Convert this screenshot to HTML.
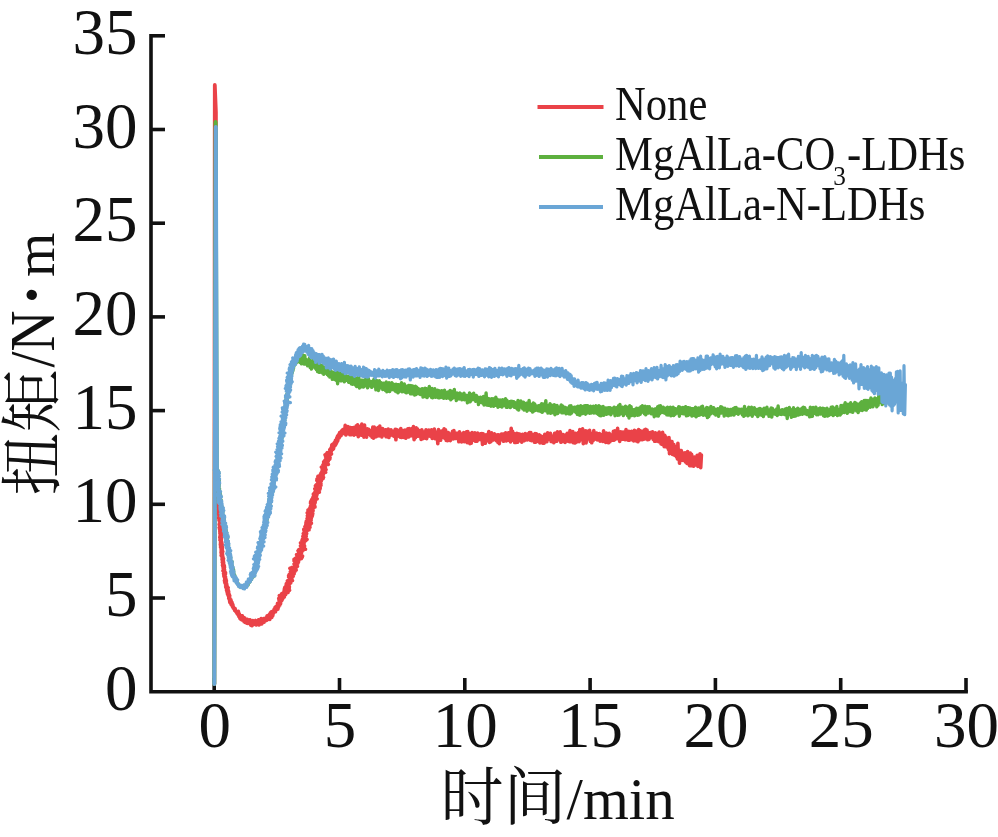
<!DOCTYPE html>
<html><head><meta charset="utf-8"><style>
html,body{margin:0;padding:0;background:#fff;}
svg{display:block;}
.num{font-family:"Liberation Serif","Noto Serif CJK SC",serif;font-size:65px;fill:#111;}
.lab{font-family:"Liberation Serif","Noto Serif CJK SC",serif;font-size:59px;fill:#111;}
.cjk{font-family:"Noto Serif CJK SC","Liberation Serif",serif;font-size:63px;fill:#111;}
.leg{font-family:"Liberation Serif","Noto Serif CJK SC",serif;font-size:43px;fill:#111;}
</style></head><body>
<svg width="998" height="837" viewBox="0 0 998 837">
<rect width="998" height="837" fill="#fff"/>
<g stroke="#111" stroke-width="3.6" fill="none">
<polyline points="151,35.8 151,691.7 966.1,691.7" stroke-linejoin="miter" stroke-linecap="square"/>
<line x1="151" y1="598.0" x2="165" y2="598.0"/><line x1="151" y1="504.3" x2="165" y2="504.3"/><line x1="151" y1="410.6" x2="165" y2="410.6"/><line x1="151" y1="316.9" x2="165" y2="316.9"/><line x1="151" y1="223.2" x2="165" y2="223.2"/><line x1="151" y1="129.5" x2="165" y2="129.5"/><line x1="151" y1="35.8" x2="165" y2="35.8"/><line x1="214.2" y1="678" x2="214.2" y2="691.7"/><line x1="339.5" y1="678" x2="339.5" y2="691.7"/><line x1="464.8" y1="678" x2="464.8" y2="691.7"/><line x1="590.1" y1="678" x2="590.1" y2="691.7"/><line x1="715.4" y1="678" x2="715.4" y2="691.7"/><line x1="840.7" y1="678" x2="840.7" y2="691.7"/><line x1="966.0" y1="678" x2="966.0" y2="691.7"/>
</g>
<g fill="none" stroke-linejoin="round" stroke-linecap="round">
<path d="M214.3 684 L214.8 85 L215.9 112 L216.2 482" stroke="#EA4248" stroke-width="3.8"/>
<path d="M216.6 480.0 L217.7 480.6 L216.2 481.5 L217.2 482.1 L216.6 482.8 L218.3 483.4 L216.9 484.2 L217.7 484.8 L216.5 485.6 L218.2 486.2 L217.0 487.0 L218.1 487.6 L216.9 488.4 L218.3 489.0 L217.5 489.8 L218.6 490.4 L217.0 491.2 L218.7 491.8 L216.9 492.6 L218.6 493.2 L216.9 494.0 L218.5 494.6 L217.3 495.4 L218.6 496.0 L217.5 496.8 L218.8 497.4 L217.8 498.2 L218.8 498.8 L217.4 499.6 L218.6 500.2 L217.5 501.0 L218.7 501.6 L217.8 502.4 L219.3 503.0 L217.1 503.8 L219.0 504.4 L217.4 505.2 L219.2 505.8 L217.7 506.6 L219.3 507.2 L218.6 507.9 L219.3 508.6 L218.3 509.4 L219.7 510.0 L218.2 510.8 L219.8 511.4 L218.5 512.2 L219.3 512.8 L218.1 513.6 L220.3 514.2 L218.7 515.0 L220.0 515.6 L219.0 516.3 L219.9 517.0 L218.5 517.8 L220.2 518.4 L219.0 519.1 L220.1 519.8 L219.1 520.5 L220.0 521.2 L219.9 521.9 L220.8 522.5 L219.4 523.3 L220.3 524.0 L219.2 524.7 L220.5 525.4 L219.8 526.1 L220.8 526.7 L219.2 527.5 L220.7 528.2 L219.5 528.9 L220.8 529.6 L219.9 530.3 L220.8 531.0 L219.9 531.7 L221.2 532.3 L219.9 533.1 L221.6 533.7 L220.2 534.5 L221.2 535.1 L220.1 535.9 L221.7 536.5 L219.8 537.3 L221.6 537.9 L220.1 538.7 L221.4 539.3 L220.0 540.1 L221.2 540.7 L220.7 541.5 L221.6 542.1 L220.5 542.9 L221.9 543.5 L220.4 544.3 L222.2 544.9 L220.6 545.7 L222.2 546.3 L220.6 547.1 L222.5 547.7 L221.1 548.5 L222.3 549.1 L221.2 549.9 L222.3 550.5 L221.2 551.3 L222.8 551.8 L221.1 552.7 L222.4 553.3 L221.4 554.1 L222.5 554.7 L221.2 555.5 L222.7 556.1 L221.9 556.8 L223.0 557.4 L222.2 558.2 L223.5 558.8 L222.1 559.6 L223.3 560.2 L222.5 561.0 L223.4 561.6 L222.3 562.4 L223.6 563.0 L222.9 563.8 L223.7 564.4 L222.5 565.2 L224.3 565.7 L222.9 566.6 L224.5 567.1 L223.2 568.0 L224.2 568.6 L223.4 569.4 L224.5 569.9 L223.0 570.8 L224.6 571.3 L223.9 572.1 L225.5 572.6 L223.6 573.6 L225.5 574.0 L223.8 575.0 L224.9 575.5 L224.0 576.4 L225.5 576.9 L224.7 577.7 L225.6 578.3 L224.8 579.1 L226.0 579.6 L224.5 580.5 L226.4 581.0 L224.7 581.9 L226.1 582.4 L225.1 583.3 L226.6 583.8 L226.0 584.6 L226.9 585.1 L225.7 586.0 L227.1 586.5 L225.9 587.4 L228.2 587.7 L226.5 588.7 L227.8 589.2 L226.6 590.2 L228.4 590.5 L227.0 591.5 L228.7 591.8 L227.3 592.9 L228.8 593.2 L227.6 594.3 L229.2 594.5 L228.3 595.6 L229.8 595.8 L228.8 596.9 L229.5 597.4 L228.8 598.3 L229.9 598.7 L229.4 599.6 L230.9 599.8 L229.7 601.0 L231.3 601.2 L229.9 602.5 L232.0 602.4 L230.9 603.6 L232.4 603.7 L231.4 604.9 L233.0 604.9 L232.5 606.5 L232.9 606.1 L233.2 608.0 L233.5 607.0 L233.9 609.0 L234.3 608.2 L234.7 610.4 L235.1 608.6 L235.5 611.2 L235.9 610.9 L236.3 612.3 L236.7 611.4 L237.1 613.6 L237.5 612.8 L238.0 614.8 L238.4 611.4 L238.9 616.5 L239.3 613.8 L239.8 618.2 L240.3 615.4 L240.8 619.3 L241.3 615.8 L241.8 619.9 L242.4 615.8 L243.0 619.5 L243.5 617.5 L244.1 621.8 L244.8 617.9 L245.4 622.5 L246.0 620.1 L246.7 623.2 L247.3 619.2 L248.0 623.4 L248.6 621.2 L249.3 623.0 L250.0 619.8 L250.7 625.1 L251.4 621.6 L252.1 625.8 L252.8 620.5 L253.5 623.9 L254.2 621.5 L254.9 624.4 L255.6 620.4 L256.3 625.0 L257.0 621.3 L257.7 624.5 L258.4 619.9 L259.1 624.9 L259.7 620.2 L260.4 623.2 L261.1 618.5 L261.8 623.9 L262.4 620.2 L263.1 621.9 L263.7 618.6 L264.2 622.2 L264.8 619.1 L265.4 620.8 L265.9 617.8 L266.5 620.5 L267.1 615.8 L267.6 619.6 L268.2 616.0 L268.7 618.0 L269.2 614.6 L269.8 619.4 L270.3 612.8 L270.8 616.7 L271.3 611.8 L271.8 617.4 L272.3 611.6 L272.8 615.6 L273.2 610.7 L273.7 613.1 L274.2 609.0 L274.6 611.8 L275.1 607.3 L275.5 611.8 L275.9 606.6 L276.4 610.1 L276.8 606.7 L277.1 609.5 L277.5 603.3 L277.9 609.1 L278.2 604.0 L278.6 607.2 L278.9 602.3 L279.3 605.2 L279.6 601.8 L279.9 605.0 L280.3 600.5 L280.6 603.5 L279.0 599.9 L281.8 600.6 L278.8 598.3 L282.5 599.3 L280.0 597.4 L283.1 598.1 L279.4 595.6 L284.3 597.0 L281.3 594.9 L283.9 595.3 L281.8 593.6 L285.7 594.6 L283.3 592.8 L286.1 593.2 L284.1 591.6 L288.0 592.5 L284.2 590.1 L288.4 591.2 L284.5 588.7 L289.6 590.2 L284.8 587.4 L289.2 588.4 L285.9 586.3 L289.4 586.9 L286.2 584.9 L288.5 585.1 L286.4 583.5 L289.7 584.0 L288.0 582.7 L290.8 582.9 L287.4 580.9 L290.8 581.4 L288.8 580.0 L292.5 580.5 L289.7 578.8 L291.9 578.9 L288.7 577.0 L291.8 577.3 L288.7 575.5 L293.2 576.3 L289.4 574.2 L292.2 574.5 L290.9 573.3 L294.2 573.7 L290.4 571.6 L293.1 571.9 L291.4 570.5 L295.1 571.1 L289.9 568.4 L296.2 570.0 L291.6 567.5 L295.4 568.3 L294.1 567.0 L296.5 567.2 L294.6 565.7 L297.5 566.2 L294.1 563.9 L296.9 564.4 L295.3 562.9 L297.9 563.3 L294.1 560.8 L298.5 562.0 L294.1 559.3 L298.8 560.6 L295.3 558.3 L299.5 559.4 L297.5 557.8 L301.4 558.6 L297.0 556.1 L302.2 557.4 L296.6 554.5 L302.6 556.0 L298.9 553.9 L301.0 553.9 L298.9 552.4 L301.7 552.6 L298.0 550.7 L300.8 550.8 L298.9 549.5 L303.3 550.1 L300.5 548.6 L305.5 549.2 L301.2 547.3 L303.6 547.2 L300.5 545.7 L304.6 546.0 L301.3 544.5 L304.0 544.4 L300.5 542.9 L304.2 543.0 L302.0 541.8 L304.2 541.6 L302.0 540.4 L305.9 540.6 L302.5 539.0 L307.1 539.4 L303.3 537.8 L305.5 537.6 L302.9 536.3 L306.3 536.3 L303.6 535.0 L306.2 534.9 L303.3 533.5 L306.7 533.6 L304.5 532.3 L306.2 532.0 L304.0 530.7 L307.3 530.8 L303.8 529.2 L309.1 529.8 L305.5 528.2 L309.1 528.4 L304.9 526.6 L310.0 527.2 L305.7 525.4 L308.6 525.4 L305.9 524.0 L310.4 524.4 L306.0 522.6 L311.4 523.2 L306.3 521.2 L310.1 521.4 L308.1 520.2 L311.2 520.3 L307.1 518.5 L311.2 518.8 L307.8 517.3 L311.6 517.5 L307.4 515.7 L312.2 516.2 L307.9 514.4 L312.6 514.9 L307.2 512.8 L312.8 513.5 L308.9 511.8 L312.3 511.9 L308.0 510.0 L313.1 510.7 L309.2 508.9 L311.3 508.8 L310.3 507.7 L313.6 507.9 L310.4 506.3 L315.0 506.9 L311.4 505.1 L314.7 505.4 L310.6 503.4 L313.8 503.6 L310.6 502.0 L315.2 502.6 L311.1 500.7 L315.3 501.2 L311.9 499.4 L315.9 499.9 L312.7 498.2 L317.2 498.8 L313.1 496.9 L316.0 497.0 L313.6 495.6 L316.7 495.7 L313.4 494.1 L317.1 494.4 L314.4 492.9 L317.2 493.0 L315.2 491.7 L319.4 492.1 L315.4 490.3 L319.1 490.6 L314.8 488.7 L319.9 489.3 L316.4 487.6 L320.3 488.0 L315.4 485.9 L320.0 486.5 L316.2 484.7 L321.0 485.3 L317.5 483.6 L321.0 483.8 L317.9 482.2 L319.5 482.0 L316.9 480.5 L321.3 481.0 L317.0 479.1 L321.4 479.6 L318.0 477.9 L323.1 478.6 L317.9 476.4 L323.6 477.3 L320.0 475.5 L322.4 475.6 L320.5 474.2 L323.5 474.4 L321.1 472.9 L323.8 473.1 L321.9 471.7 L325.7 472.3 L322.2 470.4 L325.2 470.6 L322.3 468.9 L326.1 469.5 L321.4 467.1 L325.4 467.8 L324.3 466.6 L325.3 466.3 L323.0 464.7 L325.8 464.9 L323.7 463.4 L328.4 464.4 L323.7 461.9 L327.1 462.5 L324.5 460.7 L328.2 461.4 L325.5 459.6 L328.1 459.9 L326.1 458.3 L329.8 459.1 L325.6 456.6 L330.1 457.8 L325.1 454.8 L329.3 455.9 L326.4 453.8 L330.5 454.9 L327.3 452.6 L331.5 453.9 L329.8 449.6 L330.2 452.7 L330.5 448.7 L330.8 452.7 L331.1 447.9 L331.5 451.0 L331.8 444.9 L332.2 449.4 L332.5 444.3 L332.9 449.4 L333.2 444.8 L333.6 448.7 L333.9 443.0 L334.3 445.6 L334.6 442.2 L335.0 445.6 L335.4 440.4 L335.7 444.6 L336.0 440.7 L336.4 443.3 L336.7 438.0 L337.1 441.9 L337.4 436.4 L337.8 440.7 L338.1 435.4 L338.5 438.1 L338.9 434.2 L339.2 437.8 L339.6 432.6 L340.1 436.3 L340.5 432.0 L341.0 435.7 L341.6 430.7 L342.2 434.1 L342.8 429.5 L343.4 432.6 L344.0 430.6 L344.6 433.7 L345.2 425.4 L345.8 435.0 L346.5 427.8 L347.1 432.6 L347.8 426.6 L348.5 433.8 L349.2 427.4 L349.9 434.8 L350.6 427.5 L351.3 434.6 L352.0 427.7 L352.7 431.6 L353.4 427.5 L354.1 435.1 L354.8 429.2 L355.5 432.4 L356.2 425.8 L356.9 434.5 L357.6 424.7 L358.3 436.6 L359.0 426.4 L359.7 434.2 L360.4 427.2 L361.1 435.2 L361.8 424.1 L362.5 435.5 L363.2 425.4 L363.9 437.2 L364.5 425.0 L365.2 434.7 L365.9 428.8 L366.6 437.1 L367.3 428.9 L368.0 434.5 L368.7 429.4 L369.3 433.6 L370.0 430.6 L370.7 435.7 L371.4 432.3 L372.1 437.2 L372.8 427.0 L373.5 438.2 L374.2 427.0 L374.9 437.0 L375.6 428.0 L376.3 436.6 L377.0 430.7 L377.7 434.7 L378.4 427.3 L379.1 435.9 L379.8 426.1 L380.5 435.4 L381.2 431.5 L381.9 436.9 L382.6 428.5 L383.3 434.6 L384.0 430.2 L384.7 435.1 L385.4 429.7 L386.1 436.8 L386.8 429.9 L387.5 435.9 L388.2 429.0 L388.9 437.5 L389.6 430.5 L390.3 435.4 L391.0 429.8 L391.7 434.8 L392.4 431.5 L393.1 435.7 L393.8 431.0 L394.5 436.5 L395.2 429.4 L395.9 439.8 L396.6 429.6 L397.3 435.5 L398.0 430.4 L398.7 436.1 L399.4 431.9 L400.1 437.1 L400.8 428.5 L401.5 437.5 L402.2 431.7 L402.9 435.1 L403.6 430.5 L404.3 437.5 L405.0 430.1 L405.7 438.2 L406.4 431.2 L407.1 436.1 L407.8 428.8 L408.5 437.0 L409.2 428.6 L409.9 436.1 L410.6 431.0 L411.3 435.6 L412.0 428.5 L412.7 435.8 L413.4 426.6 L414.1 439.7 L414.8 428.5 L415.5 437.7 L416.2 427.9 L416.9 435.5 L417.6 429.1 L418.3 436.3 L419.0 430.6 L419.7 435.9 L420.4 431.8 L421.1 439.4 L421.8 429.7 L422.5 438.8 L423.2 432.3 L423.9 437.7 L424.6 431.8 L425.3 438.3 L426.0 429.7 L426.7 438.7 L427.4 431.4 L428.1 436.3 L428.8 430.0 L429.5 435.8 L430.2 431.2 L430.8 436.5 L431.5 429.8 L432.2 438.4 L432.9 432.5 L433.6 437.1 L434.3 429.0 L435.0 438.7 L435.7 432.3 L436.4 438.0 L437.1 432.1 L437.8 443.7 L438.5 429.5 L439.2 438.9 L439.9 431.1 L440.6 440.3 L441.3 433.4 L442.0 437.6 L442.7 430.5 L443.4 437.2 L444.1 428.7 L444.8 438.4 L445.5 429.8 L446.2 440.4 L446.9 432.4 L447.6 440.7 L448.3 432.5 L449.0 438.0 L449.7 434.4 L450.4 440.6 L451.1 433.8 L451.8 438.5 L452.5 431.4 L453.2 438.9 L453.9 430.6 L454.6 438.5 L455.3 433.1 L456.0 438.5 L456.7 433.3 L457.4 438.0 L458.1 433.1 L458.8 441.8 L459.5 431.8 L460.2 437.5 L460.9 433.7 L461.6 441.9 L462.3 434.1 L463.0 441.4 L463.7 432.5 L464.4 441.6 L465.1 433.5 L465.8 440.4 L466.5 431.9 L467.2 442.6 L467.8 431.6 L468.5 436.4 L469.2 433.6 L469.9 443.7 L470.6 434.0 L471.3 443.1 L472.0 432.5 L472.7 440.1 L473.4 434.3 L474.1 440.2 L474.8 432.8 L475.5 441.3 L476.2 434.9 L476.9 441.3 L477.6 433.0 L478.3 440.0 L479.0 434.6 L479.7 438.6 L480.4 433.7 L481.1 439.8 L481.8 433.6 L482.5 444.4 L483.2 433.8 L483.9 441.9 L484.6 435.1 L485.3 443.3 L486.0 434.9 L486.7 440.9 L487.4 437.0 L488.1 436.0 L488.8 431.5 L489.5 442.4 L490.2 434.3 L490.9 441.6 L491.6 432.9 L492.3 439.4 L493.0 434.9 L493.7 439.9 L494.4 433.9 L495.1 438.7 L495.8 436.7 L496.5 440.6 L497.2 434.8 L497.9 442.4 L498.6 434.8 L499.3 443.6 L500.0 435.4 L500.7 440.0 L501.4 434.0 L502.1 439.7 L502.8 434.0 L503.5 441.3 L504.2 433.7 L504.9 440.1 L505.6 432.7 L506.3 440.9 L507.0 433.4 L507.7 439.8 L508.4 432.9 L509.1 440.4 L509.8 434.3 L510.5 441.9 L511.2 428.3 L511.9 440.3 L512.6 431.4 L513.3 439.7 L514.0 433.5 L514.7 442.5 L515.4 435.3 L516.1 442.4 L516.8 433.4 L517.5 442.3 L518.2 433.7 L518.9 439.8 L519.6 434.1 L520.3 440.9 L521.0 436.0 L521.7 442.1 L522.4 434.3 L523.1 440.9 L523.8 435.4 L524.5 440.6 L525.2 433.5 L525.9 439.4 L526.6 434.7 L527.3 439.9 L528.0 433.7 L528.7 439.4 L529.4 432.5 L530.1 440.2 L530.8 432.5 L531.5 440.6 L532.2 434.6 L532.9 440.1 L533.6 434.7 L534.3 442.1 L535.0 433.5 L535.7 442.1 L536.4 433.8 L537.1 440.4 L537.8 436.6 L538.5 441.6 L539.2 434.8 L539.9 442.9 L540.6 435.9 L541.3 441.7 L542.0 436.7 L542.7 443.1 L543.4 436.4 L544.1 443.2 L544.8 434.2 L545.5 441.9 L546.2 436.1 L546.9 441.6 L547.6 432.7 L548.3 439.4 L549.0 433.6 L549.7 439.0 L550.4 433.4 L551.1 441.5 L551.8 436.1 L552.5 441.7 L553.2 436.4 L553.9 442.7 L554.6 433.3 L555.3 440.6 L556.0 433.1 L556.7 441.3 L557.4 431.7 L558.1 436.9 L558.8 434.5 L559.5 439.8 L560.2 431.9 L560.9 442.3 L561.6 434.2 L562.3 439.3 L563.0 434.6 L563.7 441.5 L564.4 435.2 L565.1 442.4 L565.8 434.8 L566.5 440.7 L567.2 433.3 L567.9 441.1 L568.6 434.5 L569.3 441.6 L570.0 430.6 L570.7 441.8 L571.4 434.2 L572.1 441.6 L572.8 431.6 L573.5 442.8 L574.2 436.3 L574.9 443.0 L575.6 433.3 L576.3 442.1 L577.0 433.7 L577.7 439.6 L578.4 432.5 L579.1 441.6 L579.8 429.6 L580.5 439.6 L581.2 431.1 L581.9 439.8 L582.6 428.9 L583.3 443.6 L584.0 436.0 L584.7 441.0 L585.4 430.9 L586.1 443.0 L586.8 431.1 L587.5 439.0 L588.2 436.1 L588.9 439.1 L589.6 430.4 L590.3 441.4 L591.0 433.9 L591.7 442.8 L592.4 433.2 L593.1 440.6 L593.8 430.6 L594.5 438.3 L595.2 433.5 L595.9 439.1 L596.6 433.0 L597.3 439.9 L598.0 433.9 L598.7 439.9 L599.4 433.5 L600.1 441.1 L600.8 434.5 L601.5 438.6 L602.2 436.0 L602.9 441.5 L603.6 430.9 L604.3 440.9 L605.0 435.4 L605.7 442.4 L606.4 433.0 L607.1 440.8 L607.8 434.2 L608.5 442.8 L609.2 433.2 L609.9 441.7 L610.6 434.9 L611.3 440.0 L612.0 435.3 L612.7 440.3 L613.4 431.3 L614.1 440.2 L614.8 430.9 L615.5 439.3 L616.2 434.7 L616.9 436.7 L617.6 428.4 L618.3 439.0 L619.0 432.2 L619.7 441.4 L620.4 431.7 L621.1 437.7 L621.8 432.1 L622.5 439.3 L623.2 432.0 L623.9 437.1 L624.6 432.8 L625.3 439.7 L626.0 429.6 L626.7 438.6 L627.4 432.8 L628.1 440.1 L628.8 431.4 L629.5 440.2 L630.2 431.7 L630.9 438.9 L631.6 431.2 L632.3 439.9 L633.0 432.4 L633.7 440.9 L634.4 430.3 L635.1 438.2 L635.8 431.0 L636.5 441.0 L637.2 432.2 L637.9 441.8 L638.6 429.5 L639.3 440.1 L640.0 430.6 L640.7 439.4 L641.4 431.4 L642.1 439.8 L642.8 433.4 L643.5 439.3 L644.2 430.0 L644.9 438.9 L645.6 429.4 L646.3 438.3 L647.0 430.0 L647.7 439.8 L648.4 432.4 L649.1 439.4 L649.8 433.4 L650.5 437.2 L651.1 432.2 L651.8 437.6 L652.5 431.7 L653.2 439.4 L653.9 433.1 L654.6 441.3 L655.3 432.7 L656.0 441.2 L656.7 433.6 L657.4 440.2 L658.0 433.3 L658.6 441.6 L659.2 432.1 L659.8 442.0 L660.4 434.2 L661.0 444.0 L661.5 433.6 L662.1 444.5 L662.6 432.3 L663.1 443.2 L663.6 437.8 L664.2 446.6 L664.7 435.2 L665.2 446.2 L665.7 436.9 L666.3 446.9 L666.8 440.8 L667.3 446.3 L667.9 439.4 L668.4 449.4 L669.0 437.6 L669.5 453.8 L670.0 440.9 L670.5 452.7 L671.0 441.5 L671.5 451.2 L672.0 441.5 L672.5 454.4 L673.0 445.0 L673.5 451.7 L673.9 444.5 L674.4 455.1 L674.9 446.3 L675.4 454.8 L675.9 446.9 L676.4 456.8 L676.9 448.5 L677.4 459.0 L677.9 443.4 L678.5 459.5 L679.0 449.8 L679.5 463.3 L680.1 452.5 L680.7 458.6 L681.3 450.5 L681.9 460.3 L682.5 460.0 L683.2 460.4 L683.8 453.1 L684.4 457.0 L685.1 452.8 L685.7 462.2 L686.4 454.9 L687.0 463.4 L687.6 451.6 L688.3 463.9 L689.0 456.4 L689.6 465.6 L690.3 453.1 L690.9 465.6 L691.6 454.3 L692.3 464.6 L693.0 459.3 L693.7 466.2 L694.4 457.1 L695.1 463.8 L695.8 459.5 L696.5 465.0 L697.2 455.2 L697.9 466.4 L698.6 458.0 L699.3 464.5 L700.0 453.7 L700.7 467.6 L701.4 455.0" stroke="#EA4248" stroke-width="3.6"/>
<path d="M214.3 684 L215.6 122 L216.8 475" stroke="#5DB03E" stroke-width="4"/>
<path d="M217.5 470.0 L218.1 470.7 L217.2 471.4 L218.6 472.1 L217.0 472.8 L218.8 473.5 L217.6 474.2 L218.4 474.9 L217.3 475.6 L218.2 476.3 L217.3 477.0 L218.4 477.7 L217.6 478.4 L219.0 479.1 L217.7 479.8 L219.2 480.5 L217.8 481.2 L219.2 481.8 L217.6 482.6 L219.1 483.3 L217.7 484.0 L219.2 484.6 L217.8 485.4 L219.1 486.1 L218.3 486.8 L218.8 487.5 L217.8 488.3 L219.5 488.8 L218.4 489.6 L219.5 490.2 L218.6 491.0 L219.7 491.6 L218.9 492.4 L220.1 492.9 L218.7 493.8 L220.3 494.3 L219.1 495.2 L220.6 495.7 L218.8 496.6 L220.5 497.1 L219.3 498.0 L220.3 498.5 L219.5 499.4 L221.1 499.8 L219.7 500.8 L220.9 501.3 L220.0 502.1 L221.0 502.7 L220.3 503.5 L221.3 504.0 L220.5 504.9 L221.3 505.4 L220.9 506.3 L222.0 506.7 L221.0 507.7 L222.1 508.2 L221.0 509.1 L222.6 509.5 L221.5 510.4 L222.9 510.9 L221.3 511.9 L222.8 512.3 L221.8 513.2 L222.7 513.7 L222.2 514.5 L223.0 515.1 L222.4 515.9 L223.2 516.5 L222.5 517.3 L223.9 517.8 L222.6 518.7 L224.2 519.2 L222.9 520.1 L223.6 520.7 L223.3 521.4 L224.3 522.0 L223.5 522.8 L224.5 523.4 L223.7 524.2 L224.7 524.8 L223.8 525.6 L225.5 526.0 L224.2 527.0 L225.4 527.5 L224.6 528.3 L225.3 528.9 L224.5 529.8 L226.1 530.2 L225.1 531.1 L226.3 531.6 L225.3 532.5 L226.6 533.0 L225.5 533.8 L226.8 534.4 L225.2 535.3 L226.5 535.8 L226.1 536.6 L226.9 537.2 L226.2 538.0 L227.6 538.5 L226.4 539.4 L227.1 540.0 L226.1 540.8 L227.8 541.3 L226.7 542.2 L227.9 542.7 L226.7 543.6 L228.0 544.1 L227.2 544.9 L228.5 545.4 L227.3 546.3 L228.1 546.9 L227.2 547.7 L228.5 548.3 L227.8 549.1 L228.9 549.6 L228.0 550.5 L229.3 551.0 L228.0 551.9 L229.4 552.4 L228.3 553.3 L229.7 553.7 L228.4 554.7 L230.0 555.1 L229.2 555.9 L230.1 556.5 L228.8 557.4 L230.7 557.8 L229.4 558.8 L230.3 559.3 L229.7 560.1 L230.7 560.6 L230.0 561.5 L232.1 561.8 L230.2 562.9 L231.7 563.3 L230.4 564.3 L231.8 564.7 L231.1 565.6 L232.2 566.0 L231.2 567.0 L232.7 567.4 L231.7 568.3 L233.1 568.7 L231.9 569.7 L233.6 570.0 L232.1 571.1 L233.6 571.4 L232.4 572.5 L233.7 572.9 L233.3 573.7 L234.0 574.2 L233.3 575.2 L234.8 575.4 L233.9 576.5 L235.0 576.8 L234.3 577.8 L235.3 578.2 L234.5 579.2 L236.2 579.3 L235.4 580.4 L236.7 580.6 L236.4 582.4 L236.8 581.4 L237.1 583.2 L237.5 582.6 L237.9 584.5 L238.3 583.5 L238.7 585.1 L239.1 585.0 L239.6 586.7 L240.1 585.9 L240.7 587.1 L241.4 585.8 L242.1 587.5 L242.8 585.8 L243.4 586.6 L244.1 585.5 L244.7 586.1 L245.3 585.2 L245.9 585.5 L246.5 584.3 L247.0 585.1 L247.6 583.5 L248.0 585.1 L248.5 582.7 L248.9 583.0 L249.4 581.6 L249.8 582.0 L250.2 580.2 L250.5 580.7 L250.9 579.1 L251.3 579.7 L251.6 577.8 L252.0 578.1 L252.3 576.4 L253.2 576.7 L252.6 575.6 L254.6 575.7 L252.6 574.1 L254.5 574.1 L253.6 573.0 L254.8 572.7 L254.0 571.7 L255.1 571.3 L254.6 570.4 L254.9 569.8 L254.8 569.0 L256.4 568.8 L255.2 567.7 L256.4 567.3 L255.8 566.4 L256.2 565.8 L256.1 565.1 L256.9 564.5 L256.2 563.7 L257.3 563.2 L256.3 562.3 L257.8 561.8 L256.7 560.9 L258.0 560.4 L257.2 559.6 L257.8 559.0 L257.1 558.1 L258.5 557.7 L257.5 556.8 L258.9 556.3 L257.6 555.4 L259.1 555.0 L258.4 554.1 L259.5 553.6 L258.4 552.7 L259.5 552.2 L258.4 551.2 L259.3 550.7 L258.7 549.9 L260.0 549.4 L259.0 548.5 L260.3 548.1 L259.6 547.2 L260.8 546.8 L259.8 545.8 L261.2 545.4 L259.9 544.4 L261.5 544.1 L260.0 543.0 L261.6 542.6 L260.8 541.7 L262.1 541.3 L261.2 540.4 L262.3 539.9 L261.5 539.0 L262.8 538.6 L261.6 537.6 L262.8 537.2 L262.3 536.3 L263.8 535.9 L262.2 534.9 L263.6 534.5 L262.5 533.5 L263.7 533.1 L262.9 532.2 L264.5 531.8 L263.1 530.8 L264.4 530.4 L263.7 529.5 L264.8 529.0 L264.1 528.1 L265.4 527.7 L263.4 526.5 L265.4 526.3 L264.3 525.3 L265.9 524.9 L264.8 524.0 L266.1 523.5 L264.8 522.5 L266.3 522.2 L265.3 521.2 L266.8 520.8 L265.7 519.9 L267.2 519.5 L265.7 518.4 L267.0 518.0 L266.0 517.1 L267.4 516.7 L266.4 515.7 L267.9 515.3 L266.5 514.3 L267.9 513.9 L266.6 512.9 L268.4 512.6 L267.0 511.6 L268.4 511.2 L267.9 510.3 L269.1 509.9 L267.6 508.9 L269.5 508.5 L268.5 507.6 L269.9 507.2 L268.5 506.2 L269.8 505.7 L269.0 504.8 L270.0 504.3 L268.7 503.4 L270.3 503.0 L269.5 502.1 L270.6 501.6 L269.3 500.6 L270.6 500.2 L269.1 499.2 L270.7 498.8 L269.7 497.9 L271.1 497.4 L270.3 496.5 L271.4 496.0 L270.9 495.2 L271.9 494.7 L270.8 493.8 L272.1 493.3 L271.5 492.5 L272.6 492.0 L271.2 491.0 L272.8 490.6 L271.6 489.7 L273.2 489.3 L272.0 488.3 L273.1 487.8 L272.2 486.9 L272.9 486.4 L272.3 485.5 L273.6 485.1 L272.4 484.1 L273.5 483.6 L273.1 482.8 L273.9 482.3 L272.7 481.3 L274.2 480.9 L273.2 480.0 L274.4 479.5 L273.7 478.7 L275.1 478.2 L273.9 477.3 L274.6 476.7 L274.2 475.9 L275.2 475.4 L274.6 474.6 L275.9 474.1 L274.6 473.1 L276.0 472.7 L275.4 471.9 L276.2 471.3 L274.2 470.2 L276.4 469.9 L275.5 469.0 L276.8 468.6 L276.0 467.7 L277.2 467.2 L276.3 466.3 L278.0 465.9 L276.3 464.9 L277.4 464.4 L277.0 463.6 L278.2 463.1 L276.9 462.2 L277.9 461.7 L277.0 460.8 L278.2 460.3 L277.4 459.4 L278.4 458.9 L277.4 458.0 L278.9 457.6 L277.8 456.7 L279.7 456.3 L278.2 455.3 L279.1 454.7 L278.1 453.9 L279.2 453.3 L278.4 452.5 L279.4 452.0 L279.3 451.2 L279.8 450.6 L279.0 449.8 L280.3 449.3 L278.8 448.3 L280.5 447.9 L279.7 447.0 L280.4 446.4 L279.6 445.6 L281.0 445.1 L279.4 444.2 L280.9 443.7 L280.1 442.9 L281.3 442.3 L280.4 441.5 L281.1 440.9 L280.3 440.1 L281.3 439.5 L280.5 438.7 L281.9 438.2 L281.0 437.3 L282.6 436.9 L281.1 435.9 L282.0 435.3 L281.3 434.5 L282.3 434.0 L281.6 433.2 L282.5 432.6 L282.1 431.8 L282.5 431.2 L282.4 430.5 L283.0 429.8 L281.8 429.0 L283.1 428.4 L283.0 427.7 L283.4 427.1 L282.2 426.2 L283.9 425.7 L282.5 424.8 L283.7 424.3 L283.1 423.5 L283.6 422.9 L282.7 422.0 L284.4 421.6 L282.8 420.6 L284.8 420.2 L283.3 419.3 L284.7 418.8 L284.0 418.0 L285.2 417.4 L283.7 416.5 L285.1 416.0 L284.1 415.2 L285.2 414.6 L284.2 413.7 L285.2 413.2 L284.2 412.3 L285.7 411.8 L285.0 411.0 L286.0 410.5 L285.1 409.6 L286.3 409.1 L284.8 408.2 L286.4 407.7 L285.4 406.8 L286.5 406.3 L285.4 405.4 L286.6 404.9 L285.8 404.1 L287.1 403.6 L285.8 402.7 L286.8 402.1 L286.3 401.3 L287.5 400.8 L285.9 399.8 L287.3 399.3 L286.2 398.5 L287.8 398.0 L287.2 397.2 L287.8 396.6 L287.2 395.8 L288.0 395.2 L286.8 394.3 L288.1 393.8 L287.7 393.0 L288.5 392.5 L287.5 391.6 L288.5 391.0 L287.6 390.2 L288.9 389.7 L288.0 388.8 L289.2 388.3 L288.0 387.4 L289.5 386.9 L288.7 386.1 L289.8 385.6 L288.8 384.7 L289.6 384.1 L289.3 383.4 L290.3 382.8 L289.3 381.9 L290.4 381.4 L289.5 380.6 L290.5 380.0 L289.7 379.2 L290.4 378.6 L290.0 377.8 L290.7 377.2 L289.5 376.3 L291.1 375.9 L290.2 375.0 L291.4 374.5 L290.6 373.6 L292.0 373.2 L290.8 372.2 L292.4 371.9 L291.5 370.9 L292.9 370.6 L291.4 369.4 L293.1 369.3 L292.7 368.4 L293.5 368.0 L292.6 366.8 L293.9 366.6 L293.9 365.1 L294.2 365.4 L294.6 363.9 L295.0 364.7 L295.4 362.9 L295.8 363.3 L296.2 361.8 L296.7 362.3 L297.2 360.9 L297.7 361.7 L298.2 359.9 L298.8 360.7 L299.5 359.1 L300.2 362.6 L300.8 355.6 L301.5 363.8 L302.2 354.7 L302.9 363.6 L303.6 355.5 L304.2 364.1 L304.8 355.6 L305.4 364.1 L306.0 361.5 L306.5 364.3 L307.1 359.9 L307.6 365.9 L308.2 359.9 L308.9 364.0 L309.5 357.8 L310.1 367.5 L310.7 361.2 L311.4 369.1 L312.0 361.8 L312.6 366.1 L313.2 359.8 L313.9 366.9 L314.5 361.5 L315.1 368.0 L315.8 362.2 L316.4 369.5 L317.0 363.4 L317.6 371.6 L318.3 364.0 L318.9 372.2 L319.5 364.1 L320.1 372.4 L320.8 366.9 L321.4 370.0 L322.0 365.5 L322.6 373.1 L323.2 366.7 L323.8 374.4 L324.4 367.1 L325.0 373.3 L325.6 368.4 L326.2 372.8 L326.8 368.4 L327.4 374.6 L328.0 368.3 L328.6 375.9 L329.2 369.8 L329.8 377.1 L330.4 370.2 L331.1 376.3 L331.7 371.6 L332.3 379.3 L333.0 372.2 L333.6 376.9 L334.3 372.6 L334.9 379.6 L335.6 372.2 L336.3 380.4 L336.9 371.4 L337.6 383.7 L338.3 371.6 L339.0 379.0 L339.7 371.7 L340.3 380.7 L341.0 373.5 L341.7 380.9 L342.4 375.6 L343.1 380.3 L343.8 373.2 L344.4 381.8 L345.1 375.2 L345.8 380.2 L346.5 376.0 L347.2 380.3 L347.9 377.2 L348.6 382.2 L349.2 376.0 L349.9 382.2 L350.6 375.5 L351.3 383.9 L352.0 375.7 L352.6 384.4 L353.3 376.7 L354.0 381.2 L354.7 375.6 L355.3 385.0 L356.0 379.0 L356.7 386.5 L357.4 378.1 L358.1 386.4 L358.7 376.7 L359.4 388.0 L360.1 380.2 L360.8 384.1 L361.5 380.2 L362.2 386.7 L362.8 380.1 L363.5 387.0 L364.2 381.4 L364.9 385.4 L365.6 379.0 L366.3 385.7 L366.9 379.5 L367.6 387.8 L368.3 378.4 L369.0 386.1 L369.7 381.3 L370.4 386.0 L371.1 381.5 L371.7 387.4 L372.4 383.0 L373.1 386.2 L373.8 379.5 L374.5 385.9 L375.2 380.1 L375.9 389.8 L376.6 380.5 L377.2 389.4 L377.9 382.2 L378.6 390.5 L379.3 380.7 L380.0 388.1 L380.7 382.5 L381.4 387.5 L382.1 383.2 L382.8 389.6 L383.5 383.1 L384.2 389.1 L384.9 383.7 L385.6 390.6 L386.2 381.9 L386.9 391.8 L387.6 385.4 L388.3 388.8 L389.0 382.6 L389.7 391.5 L390.4 385.4 L391.1 388.8 L391.8 382.8 L392.5 389.6 L393.2 384.0 L393.9 389.7 L394.6 384.7 L395.3 391.1 L396.0 384.3 L396.7 391.8 L397.4 384.8 L398.1 392.8 L398.8 384.7 L399.5 391.3 L400.1 386.4 L400.8 390.8 L401.5 382.7 L402.2 391.8 L402.9 387.1 L403.6 390.9 L404.3 384.0 L405.0 392.0 L405.7 386.0 L406.4 392.9 L407.1 388.2 L407.8 391.2 L408.5 385.4 L409.2 392.3 L409.9 385.5 L410.5 393.8 L411.2 385.7 L411.9 393.9 L412.6 385.9 L413.3 393.9 L414.0 387.6 L414.7 395.0 L415.4 386.2 L416.1 394.5 L416.8 387.2 L417.5 391.0 L418.2 388.6 L418.9 393.9 L419.6 389.1 L420.3 394.5 L420.9 389.5 L421.6 393.8 L422.3 388.8 L423.0 397.0 L423.7 389.0 L424.4 395.4 L425.1 388.1 L425.8 396.8 L426.5 388.6 L427.2 397.5 L427.9 389.6 L428.6 395.5 L429.3 386.4 L430.0 393.9 L430.7 394.7 L431.3 397.2 L432.0 388.4 L432.7 397.9 L433.4 392.1 L434.1 394.4 L434.8 388.8 L435.5 397.3 L436.2 391.0 L436.9 397.1 L437.6 390.2 L438.3 397.7 L439.0 390.6 L439.7 397.8 L440.4 393.9 L441.1 396.0 L441.8 390.7 L442.5 397.6 L443.1 391.9 L443.8 398.3 L444.5 390.2 L445.2 397.4 L445.9 392.2 L446.6 398.4 L447.3 392.5 L448.0 396.0 L448.7 391.6 L449.4 398.4 L450.1 390.5 L450.8 399.9 L451.5 391.3 L452.2 398.5 L452.9 394.1 L453.6 397.1 L454.3 389.5 L455.0 397.7 L455.7 394.2 L456.3 400.5 L457.0 392.9 L457.7 398.2 L458.4 394.4 L459.1 399.1 L459.8 393.0 L460.5 397.8 L461.2 393.8 L461.9 399.9 L462.6 394.6 L463.3 399.3 L464.0 393.1 L464.7 399.8 L465.4 395.2 L466.1 399.7 L466.7 395.4 L467.4 402.8 L468.1 395.4 L468.8 401.5 L469.5 392.9 L470.2 401.9 L470.9 394.9 L471.6 400.0 L472.3 394.3 L473.0 399.4 L473.7 393.3 L474.4 399.9 L475.1 396.2 L475.7 401.4 L476.4 395.4 L477.1 400.3 L477.8 397.1 L478.5 404.5 L479.2 397.8 L479.9 402.4 L480.6 397.2 L481.3 402.2 L482.0 398.6 L482.7 403.3 L483.4 396.4 L484.0 405.0 L484.7 397.7 L485.4 402.0 L486.1 393.0 L486.8 405.1 L487.5 398.1 L488.2 405.4 L488.9 398.8 L489.6 405.2 L490.3 399.1 L491.0 406.2 L491.7 398.7 L492.3 405.0 L493.0 398.6 L493.7 406.3 L494.4 399.7 L495.1 405.0 L495.8 397.2 L496.5 405.4 L497.2 399.3 L497.9 407.2 L498.6 400.5 L499.3 406.4 L500.0 399.9 L500.6 406.2 L501.3 400.2 L502.0 407.0 L502.7 399.7 L503.4 405.5 L504.1 400.2 L504.8 405.5 L505.5 398.6 L506.2 407.2 L506.9 400.3 L507.6 407.3 L508.3 403.2 L509.0 405.9 L509.7 401.8 L510.4 407.6 L511.0 401.2 L511.7 405.7 L512.4 401.5 L513.1 406.3 L513.8 401.7 L514.5 407.3 L515.2 402.8 L515.9 407.8 L516.6 403.2 L517.3 409.1 L518.0 400.5 L518.7 410.1 L519.4 403.7 L520.1 406.7 L520.8 400.9 L521.5 407.0 L522.2 402.3 L522.8 408.9 L523.5 402.3 L524.2 410.0 L524.9 405.0 L525.6 409.3 L526.3 403.3 L527.0 411.2 L527.7 403.2 L528.4 409.8 L529.1 400.4 L529.8 409.9 L530.5 404.3 L531.2 410.5 L531.9 405.4 L532.6 412.0 L533.3 402.9 L534.0 411.1 L534.7 403.9 L535.4 410.4 L536.1 406.0 L536.8 410.1 L537.4 406.2 L538.1 410.8 L538.8 405.7 L539.5 410.8 L540.2 405.1 L540.9 411.5 L541.6 403.8 L542.3 412.3 L543.0 404.0 L543.7 409.8 L544.4 405.4 L545.1 410.8 L545.8 400.7 L546.5 410.8 L547.2 405.6 L547.9 413.0 L548.6 405.4 L549.3 410.7 L550.0 403.7 L550.7 413.3 L551.4 405.0 L552.1 412.9 L552.8 406.9 L553.5 412.5 L554.2 404.8 L554.9 414.7 L555.6 405.4 L556.3 411.1 L557.0 405.4 L557.7 413.5 L558.4 407.6 L559.1 412.0 L559.8 406.9 L560.5 411.6 L561.2 404.9 L561.9 412.9 L562.6 406.0 L563.3 412.8 L564.0 407.2 L564.7 412.2 L565.4 407.5 L566.1 413.8 L566.8 408.1 L567.5 411.1 L568.2 408.1 L568.9 413.7 L569.6 405.9 L570.3 414.1 L571.0 405.8 L571.7 413.0 L572.4 407.8 L573.1 407.7 L573.8 407.5 L574.5 411.3 L575.2 407.3 L575.9 412.5 L576.6 406.9 L577.3 414.3 L577.9 406.2 L578.6 414.7 L579.3 407.9 L580.0 415.2 L580.7 405.7 L581.4 412.0 L582.1 407.0 L582.8 413.6 L583.5 406.3 L584.2 412.0 L584.9 405.8 L585.6 414.2 L586.3 405.8 L587.0 413.1 L587.7 405.8 L588.4 411.8 L589.1 407.0 L589.8 413.2 L590.5 406.3 L591.2 413.0 L591.9 407.4 L592.6 412.4 L593.3 406.2 L594.0 413.0 L594.7 408.0 L595.4 409.6 L596.1 405.8 L596.8 413.4 L597.5 407.3 L598.2 414.4 L598.9 405.7 L599.6 415.5 L600.3 406.6 L601.0 415.8 L601.7 407.2 L602.4 414.4 L603.1 406.5 L603.8 415.3 L604.5 408.3 L605.2 412.5 L605.9 407.9 L606.6 414.3 L607.3 407.9 L608.0 413.8 L608.7 407.8 L609.4 413.1 L610.1 407.8 L610.8 414.7 L611.5 409.0 L612.2 413.1 L612.9 408.1 L613.6 412.1 L614.3 407.2 L615.0 415.7 L615.7 408.2 L616.4 413.6 L617.1 407.5 L617.8 415.4 L618.5 405.8 L619.2 415.0 L619.9 404.5 L620.6 413.8 L621.3 409.0 L622.0 412.8 L622.7 407.3 L623.4 415.5 L624.1 408.1 L624.8 412.5 L625.5 406.3 L626.2 413.6 L626.9 408.0 L627.6 415.5 L628.3 407.0 L629.0 418.0 L629.7 405.8 L630.4 413.4 L631.1 406.6 L631.8 415.5 L632.5 411.1 L633.2 415.1 L633.9 409.6 L634.6 415.8 L635.3 409.1 L636.0 413.2 L636.7 408.3 L637.4 415.2 L638.1 409.6 L638.8 415.0 L639.5 408.0 L640.2 414.3 L640.9 406.6 L641.6 412.3 L642.3 405.7 L643.0 412.0 L643.7 408.4 L644.4 413.7 L645.1 406.2 L645.8 414.9 L646.5 407.4 L647.2 411.5 L647.9 406.6 L648.6 413.0 L649.3 406.6 L650.0 412.7 L650.7 409.6 L651.4 413.9 L652.1 408.9 L652.8 413.5 L653.5 409.6 L654.2 416.7 L654.9 408.9 L655.6 414.1 L656.3 408.6 L657.0 415.9 L657.7 406.7 L658.4 416.0 L659.1 406.0 L659.8 413.9 L660.5 405.7 L661.2 412.4 L661.9 407.9 L662.6 412.3 L663.3 407.2 L664.0 412.8 L664.7 409.6 L665.4 413.5 L666.1 408.1 L666.8 414.7 L667.5 407.2 L668.2 415.1 L668.9 408.3 L669.6 413.6 L670.3 407.3 L671.0 415.8 L671.7 408.1 L672.4 414.7 L673.1 407.2 L673.8 415.5 L674.5 408.4 L675.2 414.4 L675.9 409.0 L676.6 412.8 L677.3 408.6 L678.0 413.3 L678.7 406.8 L679.4 416.2 L680.1 407.1 L680.8 413.3 L681.5 408.6 L682.2 413.6 L682.9 407.5 L683.6 413.9 L684.3 409.2 L685.0 411.7 L685.7 406.6 L686.4 415.8 L687.1 407.7 L687.8 415.5 L688.5 407.7 L689.2 414.3 L689.9 407.9 L690.6 414.8 L691.3 408.8 L692.0 416.1 L692.7 408.7 L693.4 415.2 L694.1 408.7 L694.8 415.7 L695.5 407.2 L696.2 416.9 L696.9 410.3 L697.6 415.0 L698.3 408.0 L699.0 415.4 L699.7 408.3 L700.4 414.7 L701.1 406.9 L701.8 414.3 L702.5 406.2 L703.2 415.2 L703.9 408.9 L704.6 414.0 L705.3 409.0 L706.0 415.2 L706.7 407.5 L707.4 417.6 L708.1 407.9 L708.8 416.6 L709.5 409.2 L710.2 414.3 L710.9 406.4 L711.6 413.2 L712.3 409.4 L713.0 412.7 L713.7 407.6 L714.4 413.8 L715.1 409.2 L715.8 415.0 L716.5 409.7 L717.2 413.8 L717.9 408.6 L718.6 416.4 L719.3 409.1 L720.0 413.4 L720.7 406.7 L721.4 413.1 L722.1 407.1 L722.8 412.7 L723.5 410.2 L724.2 416.1 L724.9 408.2 L725.6 412.2 L726.3 412.2 L727.0 415.2 L727.7 409.2 L728.4 415.8 L729.1 410.3 L729.8 415.0 L730.5 409.5 L731.2 415.0 L731.9 409.5 L732.6 413.6 L733.3 408.8 L734.0 415.0 L734.7 407.8 L735.4 413.6 L736.1 407.5 L736.8 413.2 L737.5 409.0 L738.2 414.2 L738.9 409.1 L739.6 413.0 L740.3 409.5 L741.0 412.5 L741.7 409.1 L742.4 414.8 L743.1 409.7 L743.8 416.3 L744.5 406.5 L745.2 415.3 L745.9 409.2 L746.6 414.4 L747.3 409.3 L748.0 415.9 L748.7 407.3 L749.4 414.7 L750.1 408.3 L750.8 413.3 L751.5 407.3 L752.2 416.2 L752.9 409.5 L753.6 414.1 L754.3 407.8 L755.0 413.9 L755.7 409.2 L756.4 414.7 L757.1 410.5 L757.8 416.5 L758.5 408.9 L759.2 414.5 L759.9 408.4 L760.6 414.9 L761.3 409.2 L762.0 415.2 L762.7 409.7 L763.4 416.6 L764.1 408.1 L764.8 414.0 L765.5 409.1 L766.2 413.8 L766.9 407.1 L767.6 413.9 L768.3 410.4 L769.0 416.3 L769.7 409.7 L770.4 414.2 L771.1 408.0 L771.8 417.1 L772.5 408.5 L773.2 413.4 L773.9 410.1 L774.6 414.0 L775.3 411.3 L776.0 414.4 L776.7 409.0 L777.4 415.5 L778.1 406.0 L778.8 412.7 L779.5 409.8 L780.2 414.2 L780.9 411.3 L781.6 414.4 L782.3 409.8 L783.0 414.1 L783.7 410.6 L784.4 414.5 L785.1 409.1 L785.8 414.9 L786.5 408.5 L787.2 418.5 L787.9 410.4 L788.6 414.8 L789.3 407.4 L790.0 412.2 L790.7 409.7 L791.4 417.4 L792.1 410.1 L792.8 415.4 L793.5 407.7 L794.2 416.3 L794.9 410.6 L795.6 416.0 L796.3 409.5 L797.0 414.5 L797.7 408.2 L798.4 415.1 L799.1 409.3 L799.8 414.5 L800.5 409.6 L801.2 414.0 L801.9 408.3 L802.6 414.2 L803.3 407.2 L804.0 413.6 L804.7 407.6 L805.4 413.8 L806.1 409.9 L806.8 414.6 L807.5 410.6 L808.2 414.1 L808.9 410.9 L809.6 416.7 L810.3 407.3 L811.0 416.6 L811.7 408.5 L812.4 416.3 L813.1 407.4 L813.8 413.6 L814.5 408.2 L815.2 412.6 L815.9 407.1 L816.6 414.7 L817.3 410.5 L818.0 414.7 L818.7 408.6 L819.4 413.7 L820.1 407.9 L820.8 414.1 L821.5 408.8 L822.2 413.6 L822.8 408.1 L823.5 415.7 L824.2 408.6 L824.9 416.3 L825.6 409.0 L826.3 415.4 L827.0 408.3 L827.7 416.1 L828.4 409.9 L829.1 415.2 L829.8 409.5 L830.5 413.7 L831.2 407.2 L831.9 414.5 L832.6 406.9 L833.3 415.6 L834.0 408.3 L834.7 413.8 L835.4 408.2 L836.1 414.4 L836.8 406.4 L837.5 415.5 L838.2 409.7 L838.9 412.6 L839.6 409.2 L840.3 415.0 L841.0 405.4 L841.7 413.4 L842.4 406.8 L843.1 411.0 L843.8 405.0 L844.5 412.5 L845.2 402.7 L845.9 410.9 L846.6 405.4 L847.3 413.4 L848.0 404.2 L848.6 410.0 L849.3 405.3 L850.0 411.6 L850.7 402.6 L851.4 411.7 L852.1 405.8 L852.8 412.3 L853.5 404.4 L854.1 409.6 L854.8 402.4 L855.5 410.0 L856.2 403.2 L856.8 411.1 L857.5 405.6 L858.2 412.6 L858.9 404.3 L859.5 410.7 L860.2 402.9 L860.9 408.7 L861.6 401.6 L862.2 410.5 L862.9 402.7 L863.6 408.6 L864.2 400.4 L864.9 409.5 L865.6 400.5 L866.3 410.1 L866.9 400.5 L867.6 408.6 L868.3 402.6 L868.9 406.3 L869.6 400.3 L870.3 407.2 L870.9 398.0 L871.6 404.6 L872.2 400.4 L872.9 406.9 L873.5 399.1 L874.2 405.0 L874.9 397.9 L875.5 402.7 L876.2 399.3 L876.8 406.9 L877.5 398.5 L878.1 405.4 L878.8 395.6 L879.5 402.4 L880.2 397.2 L880.9 402.1 L881.5 396.1 L882.2 404.5 L882.9 396.8 L883.6 401.4 L884.3 395.1 L885.0 403.4 L885.7 396.0 L886.3 403.4 L887.0 396.5 L887.7 400.1 L888.4 396.4 L889.1 402.0 L889.8 394.9 L890.5 401.4 L891.2 396.2 L891.9 402.3 L892.6 395.5 L893.3 400.1 L894.0 393.3 L894.7 399.6 L895.4 394.6" stroke="#5DB03E" stroke-width="3.4"/>
<path d="M214.3 684 L215.8 127 L216.9 475" stroke="#6AA6D6" stroke-width="4"/>
<path d="M214.3 470.1 L218.2 470.7 L215.7 471.5 L219.1 472.0 L215.4 472.9 L219.4 473.4 L216.0 474.3 L218.8 474.9 L217.1 475.6 L219.4 476.2 L215.5 477.1 L218.6 477.7 L215.5 478.5 L219.6 479.0 L217.5 479.8 L218.8 480.5 L217.1 481.2 L219.5 481.8 L216.6 482.7 L219.7 483.2 L217.0 484.0 L219.1 484.6 L216.1 485.5 L219.2 486.0 L216.8 486.9 L219.0 487.4 L216.5 488.3 L219.1 488.8 L216.9 489.7 L219.4 490.2 L218.0 491.0 L220.6 491.5 L218.4 492.4 L220.0 492.9 L217.4 493.9 L220.0 494.3 L217.0 495.4 L220.9 495.6 L218.1 496.7 L221.5 496.9 L218.3 498.1 L220.3 498.5 L218.1 499.5 L220.7 499.9 L218.3 501.0 L221.8 501.1 L218.2 502.4 L221.8 502.5 L219.1 503.7 L222.1 503.8 L220.3 504.9 L222.2 505.2 L220.0 506.4 L222.3 506.6 L220.0 507.8 L223.4 507.9 L220.1 509.2 L223.2 509.3 L220.4 510.6 L223.9 510.6 L221.4 511.8 L223.1 512.2 L220.4 513.4 L222.4 513.8 L221.2 514.7 L223.8 514.9 L220.7 516.2 L224.7 516.2 L222.4 517.3 L224.7 517.6 L222.4 518.7 L224.1 519.1 L222.1 520.2 L224.6 520.5 L221.9 521.6 L224.6 521.9 L222.7 522.9 L225.7 523.1 L221.9 524.5 L225.1 524.7 L222.9 525.7 L226.2 525.9 L223.1 527.1 L226.6 527.2 L223.3 528.5 L226.3 528.7 L224.7 529.7 L226.0 530.2 L223.5 531.3 L226.2 531.6 L225.1 532.5 L227.2 532.8 L224.3 534.0 L226.4 534.4 L224.6 535.4 L228.1 535.5 L224.3 536.8 L228.4 536.9 L225.4 538.1 L227.1 538.5 L225.7 539.4 L227.3 539.9 L225.5 540.9 L228.5 541.2 L225.4 542.3 L228.4 542.6 L226.3 543.6 L229.0 543.9 L225.2 545.2 L228.6 545.4 L226.5 546.4 L228.9 546.8 L226.4 547.8 L229.7 548.0 L227.1 549.1 L229.5 549.5 L227.4 550.5 L230.8 550.7 L227.2 552.0 L229.4 552.3 L226.7 553.5 L230.4 553.6 L227.5 554.8 L230.7 554.9 L228.2 556.1 L231.0 556.3 L228.3 557.5 L231.1 557.7 L229.3 558.8 L231.1 559.1 L228.1 560.4 L231.2 560.5 L229.1 561.7 L232.2 561.7 L229.3 563.0 L232.3 563.1 L230.1 564.3 L232.3 564.5 L230.1 565.7 L232.2 566.0 L230.3 567.1 L233.2 567.2 L230.7 568.5 L233.0 568.6 L231.3 569.8 L233.1 570.1 L230.6 571.5 L234.0 571.3 L230.8 572.9 L233.9 572.7 L231.3 574.2 L234.1 574.1 L231.7 575.6 L234.3 575.5 L232.4 576.9 L235.4 576.6 L235.2 577.4 L236.3 577.7 L234.1 579.3 L236.4 579.2 L234.1 580.9 L237.7 580.0 L236.2 583.0 L236.6 580.8 L236.9 583.0 L237.3 580.8 L237.7 584.8 L238.1 583.7 L238.5 586.5 L238.9 584.8 L239.4 586.7 L239.9 585.1 L240.5 587.5 L241.2 585.3 L241.9 587.5 L242.6 585.6 L243.2 588.7 L243.9 584.9 L244.5 589.0 L245.1 585.1 L245.7 586.4 L246.3 582.2 L246.8 587.3 L247.4 583.4 L247.8 585.2 L248.3 579.2 L248.7 583.0 L249.2 580.1 L249.6 582.3 L250.0 578.4 L250.3 582.0 L250.7 576.2 L251.1 579.5 L251.4 576.2 L251.8 579.4 L252.1 573.9 L253.1 576.7 L250.3 574.7 L254.9 575.9 L250.7 573.4 L255.0 574.4 L251.9 572.4 L255.5 573.0 L253.9 571.7 L256.0 571.7 L253.7 570.2 L256.8 570.4 L253.3 568.6 L257.6 569.2 L253.7 567.3 L258.1 567.8 L254.6 566.2 L258.7 566.4 L253.8 564.6 L257.9 564.8 L255.3 563.5 L258.4 563.4 L255.3 562.1 L258.7 562.0 L258.3 561.2 L258.7 560.6 L253.4 558.9 L259.8 559.4 L255.5 557.9 L258.6 557.7 L254.3 556.2 L259.8 556.5 L255.2 555.0 L260.4 555.2 L256.5 553.8 L259.1 553.6 L255.7 552.1 L260.1 552.4 L257.8 551.1 L260.9 551.1 L258.3 549.8 L261.7 549.9 L257.4 548.2 L261.9 548.5 L257.6 546.8 L261.6 547.0 L258.8 545.6 L263.7 546.1 L258.7 544.1 L262.4 544.3 L258.0 542.5 L262.7 543.0 L260.1 541.6 L264.1 541.8 L260.9 540.4 L262.6 540.0 L259.8 538.7 L263.7 538.9 L260.3 537.3 L265.1 537.7 L260.6 536.0 L264.9 536.2 L260.9 534.6 L265.3 534.9 L260.8 533.2 L264.3 533.2 L260.4 531.7 L265.6 532.1 L261.5 530.5 L266.0 530.7 L263.0 529.4 L265.2 529.1 L262.0 527.7 L266.4 528.0 L263.2 526.6 L266.2 526.5 L263.3 525.1 L267.3 525.3 L263.9 523.8 L267.0 523.8 L263.7 522.4 L267.9 522.5 L263.9 521.0 L266.8 520.9 L264.2 519.6 L267.3 519.5 L264.1 518.2 L267.4 518.1 L264.0 516.7 L268.7 517.0 L264.4 515.4 L268.7 515.5 L265.3 514.1 L269.5 514.3 L267.0 513.0 L270.5 513.0 L265.1 511.2 L270.3 511.6 L265.8 510.0 L268.9 509.9 L266.5 508.7 L270.9 508.8 L266.5 507.3 L269.7 507.2 L267.7 506.0 L271.4 506.1 L267.2 504.5 L269.9 504.3 L268.3 503.3 L270.5 503.0 L268.4 501.9 L271.7 501.8 L268.6 500.5 L271.8 500.4 L268.7 499.1 L271.4 498.9 L269.8 497.9 L272.0 497.6 L268.6 496.3 L271.7 496.1 L269.1 494.9 L272.7 494.9 L268.3 493.3 L272.6 493.5 L270.5 492.3 L273.1 492.1 L269.5 490.7 L273.7 490.8 L270.4 489.5 L273.7 489.4 L269.5 487.9 L274.8 488.2 L270.7 486.7 L275.9 487.0 L271.6 485.4 L274.5 485.3 L270.9 483.9 L274.4 483.8 L272.0 482.7 L274.5 482.4 L272.7 481.3 L274.4 481.0 L271.4 479.7 L276.5 480.0 L272.9 478.5 L276.6 478.6 L271.7 476.9 L276.2 477.0 L272.6 475.6 L276.1 475.6 L272.2 474.1 L276.8 474.3 L273.4 472.9 L277.4 473.0 L272.9 471.4 L278.4 471.8 L272.8 470.0 L278.5 470.4 L273.8 468.8 L277.1 468.7 L273.2 467.2 L278.1 467.4 L275.6 466.2 L279.6 466.3 L275.1 464.7 L279.4 464.8 L275.9 463.5 L279.2 463.3 L275.1 461.9 L278.0 461.7 L275.5 460.5 L280.2 460.7 L276.9 459.4 L280.0 459.2 L276.9 458.0 L281.1 458.0 L276.0 456.4 L280.2 456.4 L278.1 455.3 L280.2 454.9 L276.6 453.6 L281.7 453.8 L275.7 452.1 L280.3 452.1 L277.5 451.0 L281.0 450.8 L277.0 449.5 L280.4 449.3 L278.6 448.3 L282.0 448.1 L277.5 446.7 L281.9 446.7 L277.9 445.4 L282.5 445.4 L277.2 443.8 L281.6 443.8 L278.6 442.7 L282.0 442.5 L278.4 441.2 L282.9 441.2 L279.5 440.0 L282.2 439.7 L278.9 438.4 L282.1 438.2 L279.5 437.1 L282.8 436.9 L279.9 435.8 L284.0 435.7 L280.9 434.5 L283.1 434.1 L279.0 432.8 L285.0 433.0 L281.5 431.8 L283.3 431.3 L280.2 430.2 L283.8 430.0 L279.7 428.7 L284.1 428.6 L279.9 427.3 L284.5 427.3 L280.1 425.9 L284.7 425.9 L280.3 424.5 L285.7 424.6 L281.5 423.3 L285.9 423.2 L281.0 421.8 L285.0 421.7 L282.7 420.6 L285.2 420.3 L282.4 419.2 L285.2 418.9 L282.3 417.7 L285.9 417.6 L281.0 416.1 L285.3 416.0 L283.3 415.1 L286.7 414.8 L283.1 413.6 L285.3 413.2 L282.1 412.0 L286.8 412.0 L282.9 410.7 L287.2 410.7 L282.6 409.3 L286.6 409.2 L282.3 407.8 L287.2 407.8 L284.2 406.7 L287.4 406.5 L285.9 405.5 L287.7 405.1 L284.7 403.9 L287.2 403.6 L284.6 402.5 L290.4 402.6 L284.2 401.0 L287.4 400.8 L285.7 399.8 L287.0 399.3 L287.6 398.7 L287.5 398.0 L285.5 397.0 L289.9 396.9 L285.5 395.6 L288.3 395.3 L286.8 394.3 L288.7 393.9 L288.2 393.1 L289.1 392.6 L286.3 391.4 L290.1 391.3 L286.4 390.0 L290.7 390.0 L285.3 388.5 L289.8 388.4 L286.0 387.1 L290.6 387.1 L286.0 385.7 L289.2 385.5 L286.8 384.4 L291.0 384.3 L287.8 383.2 L291.5 383.0 L286.7 381.6 L292.3 381.7 L286.6 380.2 L291.5 380.2 L287.6 378.9 L291.6 378.8 L287.1 377.4 L291.6 377.4 L288.0 376.1 L292.0 376.0 L288.5 374.8 L291.3 374.5 L287.2 373.1 L292.2 373.2 L289.1 372.0 L292.1 371.8 L289.4 370.6 L292.8 370.6 L289.2 369.0 L292.5 369.1 L289.5 367.6 L293.4 367.9 L291.1 366.6 L293.5 366.5 L290.0 364.7 L294.1 365.3 L291.5 363.7 L295.6 364.3 L291.4 362.1 L294.7 362.6 L292.1 360.9 L296.4 361.8 L293.0 359.6 L297.2 360.8 L292.7 357.9 L295.2 359.9 L295.6 354.9 L295.9 359.4 L296.3 352.5 L296.8 360.9 L297.2 351.8 L297.7 359.0 L298.1 349.6 L298.6 355.6 L299.2 348.2 L299.7 356.5 L300.3 347.5 L300.8 355.3 L301.4 349.4 L301.9 352.9 L302.5 346.2 L303.0 352.1 L303.6 344.0 L304.2 351.0 L304.8 344.3 L305.4 350.9 L306.1 346.4 L306.8 352.1 L307.5 348.1 L308.1 354.3 L308.6 345.3 L309.2 355.0 L309.7 349.1 L310.2 356.7 L310.8 348.5 L311.3 357.6 L311.8 348.5 L312.4 357.9 L313.0 350.5 L313.5 357.3 L314.1 352.6 L314.6 359.7 L315.2 354.3 L315.7 362.4 L316.3 353.5 L316.8 359.7 L317.4 356.4 L317.9 359.0 L318.5 354.5 L319.1 363.4 L319.7 354.5 L320.3 361.0 L320.9 355.2 L321.5 362.1 L322.1 354.4 L322.7 362.6 L323.3 356.0 L323.9 364.0 L324.5 359.3 L325.2 364.0 L325.8 358.1 L326.4 367.9 L327.0 360.0 L327.7 367.7 L328.3 357.9 L329.0 367.8 L329.6 359.0 L330.3 369.2 L330.9 360.9 L331.6 366.9 L332.3 359.6 L332.9 368.0 L333.6 359.1 L334.3 369.1 L334.9 362.9 L335.6 370.5 L336.3 361.1 L337.0 369.3 L337.6 364.4 L338.3 369.8 L339.0 363.6 L339.7 370.6 L340.3 364.9 L341.0 370.4 L341.7 363.6 L342.4 371.9 L343.0 364.6 L343.7 371.6 L344.4 362.4 L345.1 373.6 L345.7 366.1 L346.4 373.0 L347.1 365.6 L347.7 373.2 L348.4 365.8 L349.1 371.8 L349.8 367.6 L350.4 374.7 L351.1 366.2 L351.8 374.6 L352.5 367.6 L353.2 374.8 L353.8 369.8 L354.5 376.4 L355.2 366.4 L355.9 375.1 L356.6 368.7 L357.3 373.8 L357.9 368.4 L358.6 375.5 L359.3 366.8 L360.0 372.9 L360.7 369.4 L361.4 376.0 L362.1 370.4 L362.8 376.3 L363.5 367.2 L364.2 377.0 L364.9 368.1 L365.6 374.5 L366.3 368.5 L367.0 377.1 L367.6 369.8 L368.3 376.8 L369.0 370.3 L369.7 374.0 L370.4 371.3 L371.1 375.3 L371.8 372.2 L372.5 375.0 L373.2 372.1 L373.9 376.3 L374.6 369.5 L375.3 378.1 L376.0 371.5 L376.7 376.0 L377.4 370.5 L378.1 375.9 L378.8 369.1 L379.5 376.0 L380.2 370.9 L380.9 375.7 L381.6 372.1 L382.3 376.8 L383.0 370.4 L383.7 375.6 L384.4 372.5 L385.1 376.4 L385.8 371.4 L386.5 376.1 L387.2 370.0 L387.9 374.9 L388.6 371.1 L389.3 377.7 L390.0 370.6 L390.7 375.8 L391.4 370.5 L392.1 376.6 L392.8 369.5 L393.5 377.5 L394.2 370.5 L394.9 376.3 L395.6 369.8 L396.3 376.5 L397.0 369.5 L397.7 376.8 L398.4 371.0 L399.1 376.4 L399.8 370.5 L400.5 378.9 L401.2 369.9 L401.9 377.8 L402.6 369.5 L403.3 375.5 L404.0 371.0 L404.7 377.0 L405.4 370.2 L406.1 377.1 L406.8 370.0 L407.5 375.5 L408.2 369.2 L408.9 375.8 L409.6 368.8 L410.3 380.0 L411.0 371.3 L411.7 375.4 L412.4 370.0 L413.1 377.1 L413.8 369.5 L414.5 375.9 L415.2 369.4 L415.9 376.0 L416.6 368.7 L417.3 375.9 L418.0 370.2 L418.7 375.2 L419.4 370.9 L420.1 377.5 L420.8 367.9 L421.5 374.5 L422.2 368.4 L422.9 375.9 L423.6 369.9 L424.3 376.1 L425.0 368.0 L425.7 373.9 L426.4 369.0 L427.1 376.5 L427.8 369.8 L428.5 375.4 L429.2 370.7 L429.9 374.0 L430.6 369.3 L431.3 376.4 L432.0 370.3 L432.7 376.1 L433.4 369.8 L434.1 375.7 L434.8 371.0 L435.5 376.9 L436.2 369.7 L436.9 377.5 L437.6 370.3 L438.3 377.4 L439.0 369.2 L439.7 377.3 L440.4 368.3 L441.1 375.8 L441.8 368.7 L442.5 376.6 L443.2 368.9 L443.9 374.5 L444.6 370.5 L445.3 375.8 L446.0 367.0 L446.7 378.2 L447.4 371.2 L448.1 374.9 L448.8 368.2 L449.5 376.5 L450.2 370.4 L450.9 375.8 L451.6 372.4 L452.3 374.3 L453.0 369.0 L453.7 374.0 L454.4 368.1 L455.1 375.7 L455.8 370.7 L456.5 376.2 L457.2 369.2 L457.9 375.1 L458.6 368.9 L459.3 374.9 L460.0 368.7 L460.7 376.3 L461.4 371.2 L462.1 374.0 L462.8 368.8 L463.5 376.2 L464.2 367.5 L464.9 376.5 L465.6 370.6 L466.3 375.3 L467.0 371.6 L467.7 375.7 L468.4 369.7 L469.1 376.6 L469.8 369.3 L470.5 374.6 L471.2 373.4 L471.9 374.3 L472.6 369.5 L473.3 377.1 L474.0 369.3 L474.7 374.7 L475.4 370.0 L476.1 374.4 L476.8 369.4 L477.5 374.9 L478.2 368.1 L478.9 376.5 L479.6 368.5 L480.3 375.5 L481.0 370.3 L481.7 375.5 L482.4 369.9 L483.1 374.5 L483.8 370.3 L484.5 376.9 L485.2 368.8 L485.9 374.7 L486.6 369.1 L487.3 375.5 L488.0 370.7 L488.7 376.8 L489.4 367.7 L490.1 374.7 L490.8 368.3 L491.5 377.3 L492.2 370.0 L492.9 376.2 L493.6 369.3 L494.3 376.5 L495.0 368.4 L495.7 373.8 L496.4 374.2 L497.1 375.6 L497.8 370.4 L498.5 376.9 L499.2 368.1 L499.9 373.8 L500.6 370.0 L501.3 374.4 L502.0 368.1 L502.7 374.8 L503.4 369.2 L504.1 373.9 L504.8 368.9 L505.5 374.2 L506.2 369.8 L506.9 376.3 L507.6 368.3 L508.3 374.9 L509.0 367.6 L509.7 375.3 L510.4 370.3 L511.1 375.8 L511.8 368.3 L512.5 374.1 L513.2 369.1 L513.9 374.3 L514.6 368.9 L515.3 373.6 L516.0 368.5 L516.7 378.3 L517.4 369.1 L518.1 376.9 L518.8 365.3 L519.5 375.4 L520.2 369.3 L520.9 373.3 L521.6 369.8 L522.3 374.4 L523.0 368.6 L523.7 375.9 L524.4 367.8 L525.1 377.1 L525.8 369.7 L526.5 375.1 L527.2 369.1 L527.9 374.2 L528.6 368.2 L529.3 375.4 L530.0 368.5 L530.7 374.1 L531.4 370.8 L532.1 373.7 L532.8 370.8 L533.5 373.8 L534.2 370.1 L534.9 376.4 L535.6 368.9 L536.3 375.5 L537.0 368.2 L537.7 373.5 L538.4 368.0 L539.1 376.5 L539.8 370.5 L540.5 374.9 L541.2 368.2 L541.9 375.1 L542.6 369.6 L543.3 377.4 L544.0 370.4 L544.7 377.5 L545.4 370.1 L546.1 374.3 L546.8 368.8 L547.5 377.1 L548.2 369.0 L548.9 375.6 L549.6 369.9 L550.3 375.6 L551.0 368.3 L551.7 374.2 L552.4 370.0 L553.1 375.4 L553.8 369.9 L554.5 375.7 L555.2 368.8 L555.9 375.9 L556.6 367.9 L557.3 375.2 L558.0 369.8 L558.7 375.6 L559.3 368.4 L560.0 376.6 L560.7 370.7 L561.4 373.3 L562.1 368.4 L562.8 375.5 L563.4 372.0 L564.1 377.1 L564.7 371.1 L565.3 376.9 L565.8 370.7 L566.4 377.4 L566.9 373.4 L567.4 379.4 L568.0 372.8 L568.5 379.4 L569.0 375.2 L569.5 380.3 L570.1 374.4 L570.6 382.1 L571.2 375.7 L571.7 383.1 L572.3 378.4 L572.9 383.8 L573.5 379.4 L574.1 386.4 L574.6 378.8 L575.2 385.6 L575.8 381.0 L576.3 385.8 L576.9 381.2 L577.5 386.8 L578.1 380.2 L578.6 386.9 L579.2 382.8 L579.9 387.2 L580.5 383.8 L581.1 388.2 L581.8 382.5 L582.4 387.9 L583.1 382.6 L583.8 388.6 L584.5 383.3 L585.2 390.0 L585.9 382.6 L586.6 388.9 L587.3 383.3 L588.0 389.7 L588.7 384.8 L589.4 390.4 L590.1 385.2 L590.8 390.0 L591.5 384.4 L592.2 389.7 L592.9 384.8 L593.6 390.9 L594.3 383.7 L595.0 388.9 L595.7 382.8 L596.4 389.2 L597.1 382.4 L597.8 389.3 L598.4 385.0 L599.1 388.6 L599.8 385.2 L600.5 391.9 L601.2 383.3 L601.9 391.4 L602.6 383.9 L603.3 387.4 L604.0 382.8 L604.7 390.3 L605.4 383.1 L606.0 390.2 L606.7 384.9 L607.4 390.5 L608.1 380.1 L608.8 389.8 L609.4 382.1 L610.1 390.3 L610.8 380.7 L611.5 387.7 L612.1 380.8 L612.8 385.3 L613.5 378.4 L614.1 385.3 L614.8 378.2 L615.5 386.1 L616.2 380.2 L616.8 387.0 L617.5 378.5 L618.2 384.5 L618.9 379.3 L619.5 382.3 L620.2 380.7 L620.9 385.8 L621.5 376.0 L622.2 386.6 L622.9 376.4 L623.5 384.4 L624.2 378.7 L624.9 382.5 L625.5 379.9 L626.2 385.1 L626.9 375.6 L627.5 383.5 L628.2 377.2 L628.9 383.4 L629.6 375.5 L630.2 381.7 L630.9 373.7 L631.6 381.1 L632.3 377.1 L633.0 384.9 L633.6 373.3 L634.3 380.9 L635.0 375.2 L635.7 380.0 L636.4 372.5 L637.1 383.0 L637.7 373.2 L638.4 380.3 L639.1 375.6 L639.8 381.0 L640.5 370.6 L641.2 382.3 L641.8 371.0 L642.5 379.8 L643.2 370.9 L643.9 379.5 L644.6 371.3 L645.3 380.6 L646.0 368.6 L646.6 377.8 L647.3 371.7 L648.0 381.3 L648.7 370.6 L649.4 379.4 L650.1 371.4 L650.8 377.8 L651.4 368.5 L652.1 380.0 L652.8 368.9 L653.5 377.6 L654.2 367.7 L654.9 376.6 L655.6 371.5 L656.3 377.9 L657.0 367.4 L657.6 379.0 L658.3 370.8 L659.0 376.9 L659.7 370.4 L660.4 376.2 L661.1 365.4 L661.8 376.9 L662.5 370.4 L663.1 377.6 L663.8 368.7 L664.5 374.8 L665.2 364.5 L665.9 380.0 L666.6 366.2 L667.2 376.1 L667.9 369.7 L668.6 375.0 L669.3 365.5 L670.0 373.4 L670.6 367.0 L671.3 375.8 L672.0 367.3 L672.7 375.0 L673.4 365.5 L674.0 376.2 L674.7 371.1 L675.4 375.2 L676.1 364.9 L676.7 374.8 L677.4 364.5 L678.1 373.7 L678.8 367.4 L679.5 371.7 L680.1 361.1 L680.8 370.1 L681.5 362.7 L682.2 370.3 L682.9 361.8 L683.5 369.2 L684.2 361.4 L684.9 368.6 L685.6 362.8 L686.3 369.5 L687.0 361.5 L687.6 371.0 L688.3 363.9 L689.0 371.1 L689.7 360.9 L690.4 370.8 L691.0 358.9 L691.7 366.5 L692.4 358.6 L693.1 369.6 L693.8 358.5 L694.5 365.6 L695.2 361.2 L695.8 368.8 L696.5 360.2 L697.2 368.5 L697.9 357.9 L698.6 372.2 L699.3 360.4 L700.0 370.7 L700.6 356.2 L701.3 366.4 L702.0 359.5 L702.7 369.4 L703.4 360.5 L704.1 369.5 L704.8 360.0 L705.5 368.6 L706.2 356.0 L706.9 368.0 L707.5 356.1 L708.2 367.9 L708.9 358.5 L709.6 369.0 L710.3 358.1 L711.0 364.7 L711.7 357.6 L712.4 363.7 L713.1 354.9 L713.8 364.5 L714.5 356.5 L715.2 366.8 L715.9 358.6 L716.6 369.0 L717.3 356.4 L718.0 364.2 L718.7 357.7 L719.4 367.9 L720.1 354.1 L720.8 364.4 L721.5 358.6 L722.2 363.4 L722.9 356.4 L723.6 364.4 L724.3 359.4 L725.0 367.5 L725.7 358.2 L726.4 363.3 L727.1 356.0 L727.8 366.3 L728.5 357.6 L729.2 364.9 L729.9 359.3 L730.6 365.5 L731.3 357.6 L732.0 364.9 L732.7 357.5 L733.4 367.4 L734.1 357.8 L734.8 364.5 L735.5 355.9 L736.2 365.9 L736.9 355.7 L737.6 365.3 L738.3 357.8 L739.0 366.4 L739.7 356.6 L740.4 363.5 L741.1 358.8 L741.8 365.8 L742.5 360.5 L743.2 367.3 L743.9 357.5 L744.6 368.1 L745.2 356.1 L745.9 369.3 L746.6 355.3 L747.3 365.0 L748.0 356.8 L748.7 368.0 L749.4 356.0 L750.1 368.3 L750.8 359.0 L751.5 365.1 L752.2 359.6 L752.9 368.7 L753.6 359.0 L754.3 367.0 L755.0 359.6 L755.7 368.7 L756.4 355.3 L757.1 365.4 L757.8 360.8 L758.5 368.5 L759.2 360.5 L759.9 365.6 L760.6 359.7 L761.3 368.8 L762.0 356.9 L762.7 370.6 L763.4 358.8 L764.1 369.8 L764.8 359.0 L765.5 366.6 L766.2 357.1 L766.9 368.8 L767.6 355.9 L768.3 366.2 L769.0 357.3 L769.7 365.6 L770.4 356.5 L771.1 361.0 L771.8 357.4 L772.5 363.8 L773.2 359.9 L773.9 368.2 L774.6 356.5 L775.3 369.1 L776.0 357.0 L776.7 364.2 L777.4 357.5 L778.1 367.9 L778.8 357.6 L779.5 364.5 L780.2 357.2 L780.9 367.4 L781.6 356.8 L782.3 368.7 L783.0 359.2 L783.7 369.9 L784.4 355.4 L785.1 368.1 L785.8 357.7 L786.5 367.2 L787.2 355.5 L787.9 365.7 L788.6 354.1 L789.3 365.9 L790.0 359.2 L790.7 369.5 L791.4 360.0 L792.1 367.5 L792.8 357.5 L793.5 365.7 L794.2 357.8 L794.9 366.7 L795.6 360.3 L796.3 369.7 L797.0 358.8 L797.7 366.0 L798.4 356.4 L799.1 366.5 L799.8 360.3 L800.5 369.4 L801.2 352.6 L801.9 366.1 L802.6 357.0 L803.3 366.1 L804.0 357.8 L804.7 368.0 L805.4 355.3 L806.1 363.9 L806.8 360.3 L807.5 367.1 L808.2 356.3 L808.8 367.5 L809.5 358.3 L810.2 369.3 L810.9 360.6 L811.6 368.8 L812.3 355.4 L813.0 366.1 L813.7 357.9 L814.4 369.3 L815.1 356.1 L815.8 368.0 L816.5 355.3 L817.2 365.9 L817.9 356.3 L818.6 364.5 L819.3 359.0 L820.0 369.0 L820.6 358.8 L821.3 371.8 L822.0 357.0 L822.7 371.4 L823.4 361.8 L824.1 369.1 L824.8 356.7 L825.5 368.0 L826.2 358.9 L826.9 369.9 L827.6 359.3 L828.2 368.2 L828.9 358.8 L829.6 370.9 L830.3 367.9 L831.0 370.4 L831.7 362.8 L832.4 368.2 L833.1 363.4 L833.7 373.4 L834.4 359.4 L835.1 373.1 L835.8 361.0 L836.5 371.8 L837.1 362.5 L837.8 371.6 L838.5 362.9 L839.2 374.8 L839.8 364.6 L840.5 373.3 L841.2 361.8 L841.8 373.7 L842.5 360.7 L843.1 376.1 L843.8 355.3 L844.4 377.4 L845.1 367.1 L845.7 378.3 L846.4 363.9 L847.0 374.3 L847.6 366.4 L848.3 376.1 L848.9 365.7 L849.6 378.3 L850.2 364.8 L850.9 376.2 L851.6 366.1 L852.2 380.2 L852.9 362.5 L853.6 383.0 L854.3 365.5 L854.9 378.7 L855.6 363.9 L856.3 381.1 L857.0 371.1 L857.6 379.4 L858.3 370.0 L859.0 388.8 L859.6 368.8 L860.3 380.9 L861.0 364.5 L861.6 384.3 L862.3 368.2 L863.0 383.0 L863.6 367.6 L864.3 388.3 L864.9 372.4 L865.6 386.2 L866.2 368.6 L866.8 388.4 L867.5 366.5 L868.1 389.3 L868.7 369.9 L869.4 387.1 L870.0 369.7 L870.6 387.8 L871.3 366.2 L871.9 390.4 L872.5 367.7 L873.1 391.9 L873.8 367.8 L874.4 393.7 L875.0 378.8 L875.7 390.7 L876.3 366.6 L876.9 387.7 L877.5 374.8 L878.2 394.1 L878.8 367.8 L879.4 392.1 L880.1 373.5 L880.7 393.6 L881.4 372.8 L882.0 402.0 L882.6 377.1 L883.3 402.6 L883.9 374.3 L884.6 395.5 L885.2 376.6 L885.8 405.9 L886.5 374.8 L887.1 396.7 L887.7 378.8 L888.4 403.0 L889.0 373.0 L889.6 405.0 L890.3 373.0 L890.9 406.2 L891.5 377.1 L892.1 410.8 L892.8 382.6 L893.4 405.4 L894.0 380.3 L894.6 404.1 L895.2 378.6 L895.8 398.8 L896.4 371.8 L897.0 401.9 L897.6 371.4 L898.2 412.9 L898.8 381.5 L899.4 410.4 L900.1 370.8 L900.7 410.5 L901.4 383.2 L902.0 410.4 L902.7 390.6 L903.3 413.8 L904.0 365.7 L904.7 414.7 L905.4 384.5" stroke="#6AA6D6" stroke-width="3.2"/>
</g>
<g class="num">
<text x="137.5" y="709.7" text-anchor="end">0</text><text x="137.5" y="616.0" text-anchor="end">5</text><text x="137.5" y="522.3" text-anchor="end">10</text><text x="137.5" y="428.6" text-anchor="end">15</text><text x="137.5" y="334.9" text-anchor="end">20</text><text x="137.5" y="241.2" text-anchor="end">25</text><text x="137.5" y="147.5" text-anchor="end">30</text><text x="137.5" y="53.8" text-anchor="end">35</text>
<text x="214.7" y="746.5" text-anchor="middle">0</text><text x="340.0" y="746.5" text-anchor="middle">5</text><text x="465.3" y="746.5" text-anchor="middle">10</text><text x="590.6" y="746.5" text-anchor="middle">15</text><text x="715.9" y="746.5" text-anchor="middle">20</text><text x="841.2" y="746.5" text-anchor="middle">25</text><text x="966.5" y="746.5" text-anchor="middle">30</text>
</g>
<text class="cjk" x="440.5" y="818.6">时间</text>
<text class="lab" x="566.5" y="818.6">/min</text>
<g transform="translate(54 492.6) rotate(-90)">
<text class="cjk" x="-3" y="0">扭矩</text>
<text class="lab" transform="translate(125 0) scale(0.97 1.06)">/N</text>
<text class="lab" x="183" y="7.1" style="font-size:88px">·</text>
<text class="lab" x="215.5" y="0" style="font-size:57px">m</text>
</g>
<g stroke-width="4" fill="none">
<line x1="537.5" y1="107" x2="603.5" y2="107" stroke="#EA4248"/>
<line x1="539" y1="157" x2="603" y2="157" stroke="#5DB03E"/>
<line x1="539" y1="207" x2="603" y2="207" stroke="#6AA6D6"/>
</g>
<g class="leg">
<text transform="translate(615 119.5) scale(0.992 1.11)">None</text>
<text transform="translate(615 170) scale(0.992 1.11)">MgAlLa-CO<tspan font-size="25.5" dx="-2" dy="13.5">3</tspan><tspan dx="1" dy="-13.5">-LDHs</tspan></text>
<text transform="translate(615 219.5) scale(0.992 1.11)">MgAlLa-N-LDHs</text>
</g>
</svg>
</body></html>
